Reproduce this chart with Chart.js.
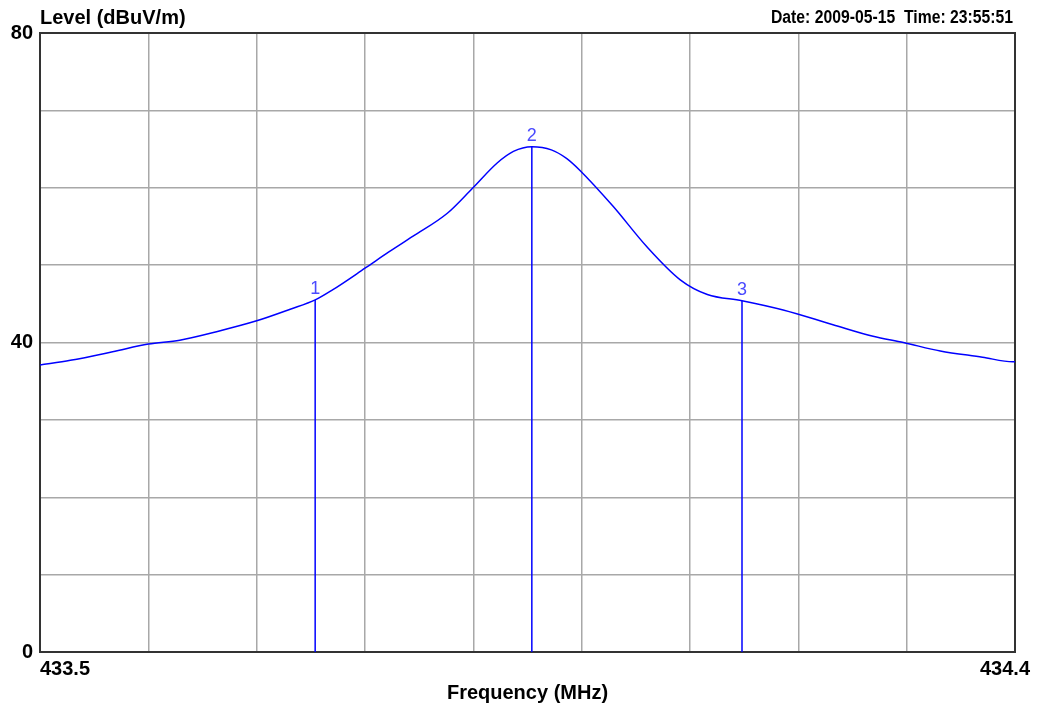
<!DOCTYPE html>
<html>
<head>
<meta charset="utf-8">
<title>Level vs Frequency</title>
<script src="https://cdn.jsdelivr.net/npm/chart.js"></script>
<style>
    body { margin: 0; background: #fff; }
    canvas { display: block; }
</style>
</head>
<body>
<canvas id="traceChart" width="1038" height="708"></canvas>
<script>
// Trace (MHz, dBuV/m)
const freqMHz = [433.500, 433.528, 433.567, 433.600, 433.629, 433.663, 433.700, 433.731, 433.754, 433.770,
    433.800, 433.822, 433.844, 433.876, 433.899, 433.922, 433.937, 433.954, 433.972, 433.986,
    433.998, 434.029, 434.060, 434.091, 434.116, 434.148, 434.186, 434.232, 434.269, 434.297,
    434.331, 434.370, 434.398, 434.400];
const levelDb = [37.1, 37.7, 38.8, 39.8, 40.3, 41.4, 42.8, 44.3, 45.5, 46.8,
    49.6, 51.7, 53.7, 56.7, 59.9, 63.2, 64.7, 65.3, 64.9, 63.8,
    62.3, 57.6, 52.4, 48.1, 46.2, 45.4, 44.2, 42.3, 40.8, 40.0,
    38.9, 38.1, 37.5, 37.5];

// Markers
const markerNames = ['1', '2', '3'];
const markerFreq = [433.754, 433.954, 434.148];
const markerLevel = [45.5, 65.3, 45.4];

// Axis text
const xTickLabels = ['433.5', '434.4'];
const yTickLabels = ['0', '40', '80'];
const yTitle = 'Level (dBuV/m)';
const xTitle = 'Frequency (MHz)';
const stampText = 'Date: 2009-05-15  Time: 23:55:51';

const FONT = '"Liberation Sans", Arial, sans-serif';
const BLUE = '#0000ff';

const datasets = [{
    data: freqMHz.map((f, i) => ({ x: f, y: levelDb[i] })),
    borderColor: BLUE,
    borderWidth: 1.5,
    pointRadius: 0,
    cubicInterpolationMode: 'monotone'
}];
markerFreq.forEach((f, i) => {
    datasets.push({
        data: [{ x: f, y: 0 }, { x: f, y: markerLevel[i] }],
        borderColor: BLUE,
        borderWidth: 1.5,
        pointRadius: 0
    });
});

// frame, titles, x labels and marker numbers
const decorations = {
    id: 'decorations',
    beforeDatasetsDraw(chart) {
        const { ctx, chartArea: a } = chart;
        ctx.save();
        ctx.strokeStyle = '#333';
        ctx.lineWidth = 2;
        ctx.strokeRect(a.left, a.top, a.right - a.left, a.bottom - a.top);
        ctx.restore();
    },
    afterDraw(chart) {
        const { ctx, chartArea: a } = chart;
        const xs = chart.scales.x;
        const ys = chart.scales.y;
        ctx.save();
        ctx.fillStyle = '#000';
        ctx.textBaseline = 'alphabetic';

        ctx.font = 'bold 20px ' + FONT;
        ctx.textAlign = 'left';
        ctx.fillText(yTitle, a.left, 24);
        ctx.fillText(xTickLabels[0], xs.getPixelForValue(433.5), 675);
        ctx.textAlign = 'right';
        ctx.fillText(xTickLabels[1], xs.getPixelForValue(434.4) + 15, 675);
        ctx.textAlign = 'center';
        ctx.fillText(xTitle, (a.left + a.right) / 2, 699);

        // date stamp, squeezed to the width seen in the picture
        ctx.font = 'bold 18px ' + FONT;
        ctx.textAlign = 'left';
        const w = ctx.measureText(stampText).width;
        const target = 242;
        ctx.translate(1013 - target, 23);
        ctx.scale(target / w, 1);
        ctx.fillText(stampText, 0, 0);
        ctx.restore();

        ctx.save();
        ctx.font = '18px ' + FONT;
        ctx.fillStyle = '#4a4aff';
        ctx.textAlign = 'center';
        markerFreq.forEach((f, i) => {
            ctx.fillText(markerNames[i], xs.getPixelForValue(f), ys.getPixelForValue(markerLevel[i]) - 6);
        });
        ctx.restore();
    }
};

new Chart(document.getElementById('traceChart'), {
    type: 'line',
    data: { datasets },
    options: {
        responsive: false,
        animation: false,
        layout: { padding: { top: 33, right: 23, left: 0, bottom: 0 } },
        plugins: { legend: { display: false }, tooltip: { enabled: false } },
        scales: {
            x: {
                type: 'linear',
                min: 433.5,
                max: 434.4,
                ticks: { display: false, stepSize: 0.1 },
                grid: { color: '#a8a8a8', lineWidth: 1.5, drawTicks: false },
                border: { display: false },
                afterFit: s => { s.height = 56; }
            },
            y: {
                min: 0,
                max: 80,
                ticks: {
                    stepSize: 10,
                    padding: 7,
                    color: '#000',
                    font: { family: FONT, size: 20, weight: 'bold' },
                    callback: v => yTickLabels.includes(String(v)) ? String(v) : ''
                },
                grid: { color: '#a8a8a8', lineWidth: 1.5, drawTicks: false },
                border: { display: false },
                afterFit: s => { s.width = 40; }
            }
        }
    },
    plugins: [decorations]
});
</script>
</body>
</html>
